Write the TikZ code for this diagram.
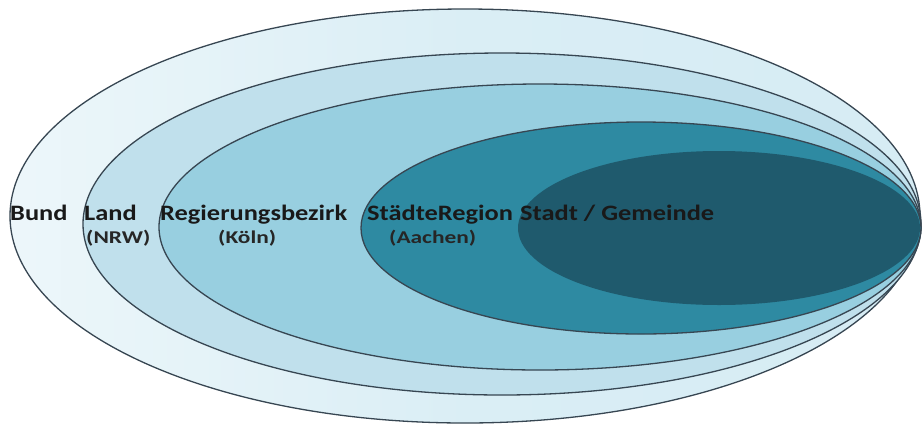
\documentclass[tikz,border=0pt]{standalone}
\usepackage{fontspec}
\setmainfont{Carlito}
\newfontfamily\widebold[FakeStretch=1.2]{Carlito Bold}
\newfontfamily\widerbold[FakeStretch=1.3]{Carlito Bold}
\usepackage{tikz}
\definecolor{ring_a}{RGB}{214,236,244}
\definecolor{ring_b}{RGB}{192,224,236}
\definecolor{ring_c}{RGB}{152,207,224}
\definecolor{ring_d}{RGB}{46,138,162}
\definecolor{ring_e}{RGB}{31,90,109}
\definecolor{ring_line}{RGB}{55,70,82}
\tikzset{
  ring/.style={draw=ring_line, line width=1.3pt},
  lbl/.style={anchor=base west, inner sep=0pt, font=\widebold\fontsize{22}{26}\selectfont, text=black!90},
  sublbl/.style={anchor=base west, inner sep=0pt, font=\widerbold\fontsize{18}{21}\selectfont, text=black!85}
}

\begin{document}
\begin{tikzpicture}[x=1pt, y=-1pt]
          \useasboundingbox (0,0) rectangle (923,424);
          % outer ring, a little lighter on the left
          \draw[ring, left color=ring_a!45!white, right color=ring_a, middle color=ring_a!90!white]
            (465,216) ellipse [x radius=455, y radius=207];
          % inner rings
          \foreach \cx/\cy/\rx/\ry/\col in {502/224/419/171/ring_b,
                                            540/227/381/143/ring_c,
                                            641/228/280/106/ring_d}{
            \draw[ring, fill=\col] (\cx,\cy) ellipse [x radius=\rx, y radius=\ry];
          }
          % core, no outline
          \fill[ring_e] (719,228) ellipse [x radius=201, y radius=77];
          % labels
          \node[lbl] (bund) at (10,220) {Bund};
          \node[lbl] (land) at (84,220) {Land};
          \node[sublbl] (nrw) at (86,243) {(NRW)};
          \node[lbl] (rbez) at (160,220) {Regierungsbezirk};
          \node[sublbl] (koeln) at (218,243) {(Köln)};
          \node[lbl] (sreg) at (367,220) {StädteRegion};
          \node[sublbl] (aachen) at (389,243) {(Aachen)};
          \node[lbl] (stadt) at (520,220) {Stadt / Gemeinde};
        \end{tikzpicture}
\end{document}
